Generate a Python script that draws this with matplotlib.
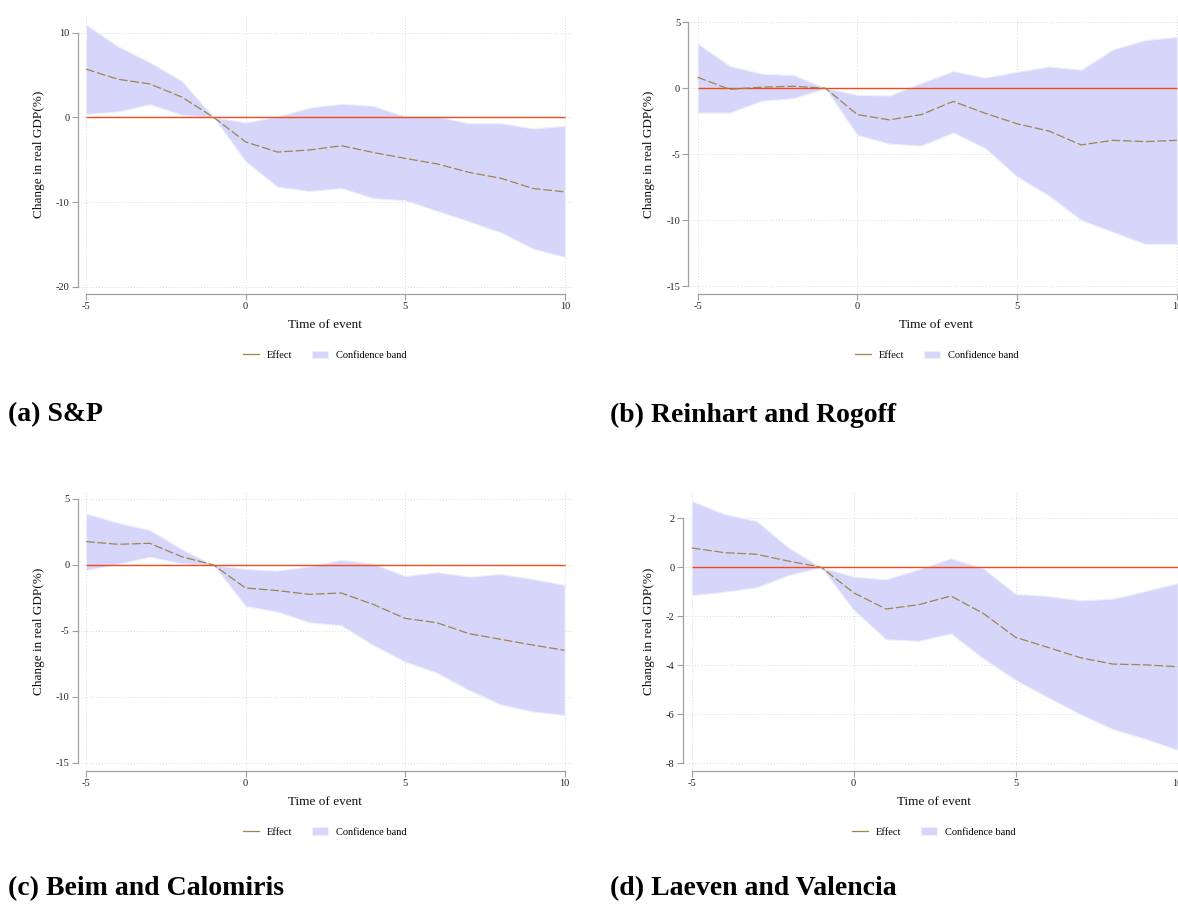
import matplotlib
matplotlib.use("Agg")
import matplotlib.pyplot as plt
from matplotlib.lines import Line2D
from matplotlib.patches import Patch

plt.rcParams['font.family'] = ['Liberation Serif', 'DejaVu Serif']
plt.rcParams['axes.unicode_minus'] = False

time = [-5, -4, -3, -2, -1, 0, 1, 2, 3, 4, 5, 6, 7, 8, 9, 10]

sp_effect = [5.7, 4.5, 3.95, 2.4, 0.0, -2.9, -4.1, -3.85, -3.35, -4.15, -4.85, -5.5, -6.5, -7.2, -8.4, -8.8]
sp_upper = [10.95, 8.4, 6.5, 4.3, 0.0, -0.6, 0.1, 1.15, 1.6, 1.35, 0.1, 0.1, -0.7, -0.7, -1.3, -1.0]
sp_lower = [0.4, 0.7, 1.55, 0.3, 0.0, -5.2, -8.2, -8.7, -8.35, -9.55, -9.8, -11.05, -12.3, -13.6, -15.5, -16.5]

rr_effect = [0.83, -0.08, 0.08, 0.15, 0.0, -2.0, -2.4, -2.0, -1.0, -1.9, -2.7, -3.25, -4.3, -3.95, -4.05, -3.95]
rr_upper = [3.4, 1.7, 1.1, 1.0, 0.0, -0.5, -0.55, 0.4, 1.3, 0.8, 1.25, 1.65, 1.4, 2.95, 3.65, 3.9]
rr_lower = [-1.85, -1.85, -0.95, -0.75, 0.0, -3.55, -4.2, -4.35, -3.35, -4.55, -6.7, -8.15, -10.0, -10.9, -11.8, -11.8]

bc_effect = [1.77, 1.57, 1.64, 0.63, 0.0, -1.74, -1.94, -2.22, -2.12, -2.98, -4.04, -4.37, -5.2, -5.63, -6.06, -6.46]
bc_upper = [3.9, 3.2, 2.65, 1.2, 0.0, -0.3, -0.43, -0.1, 0.4, 0.1, -0.83, -0.55, -0.88, -0.68, -1.06, -1.5]
bc_lower = [-0.38, 0.08, 0.63, 0.13, 0.0, -3.1, -3.54, -4.34, -4.57, -6.06, -7.32, -8.16, -9.47, -10.56, -11.1, -11.36]

lv_effect = [0.79, 0.6, 0.53, 0.25, 0.0, -1.04, -1.7, -1.53, -1.17, -1.88, -2.86, -3.27, -3.69, -3.95, -3.98, -4.06]
lv_upper = [2.71, 2.18, 1.89, 0.79, 0.0, -0.38, -0.49, -0.08, 0.37, -0.04, -1.09, -1.17, -1.35, -1.28, -0.97, -0.65]
lv_lower = [-1.14, -1.0, -0.82, -0.31, 0.0, -1.74, -2.94, -3.0, -2.7, -3.72, -4.6, -5.31, -6.0, -6.6, -7.0, -7.45]

x_ticks = [-5, 0, 5, 10]
titles = ["(a) S&P", "(b) Reinhart and Rogoff", "(c) Beim and Calomiris", "(d) Laeven and Valencia"]

W, H = 1178, 907
fig = plt.figure(figsize=(W / 100, H / 100), dpi=100)

# layout in reference pixels: spine x, pixel of x=-5, pixel of x=10,
# top of axes, bottom (x spine), pixel of top tick, pixel of bottom tick
panels = [
    dict(eff=sp_effect, up=sp_upper, lo=sp_lower, yt=[-20, -10, 0, 10],
         spine=77.7, x0=86.0, x1=565.0, top=14.0, bot=294.3, yt_top=32.7, yt_bot=286.7,
         leg=(325, 355.5), title=(8, 415)),
    dict(eff=rr_effect, up=rr_upper, lo=rr_lower, yt=[-15, -10, -5, 0, 5],
         spine=688.2, x0=697.6, x1=1177.0, top=13.7, bot=294.0, yt_top=22.3, yt_bot=286.0,
         leg=(937, 355.5), title=(610, 415)),
    dict(eff=bc_effect, up=bc_upper, lo=bc_lower, yt=[-15, -10, -5, 0, 5],
         spine=77.7, x0=86.0, x1=564.5, top=491.7, bot=771.3, yt_top=499.0, yt_bot=763.0,
         leg=(325, 832), title=(8, 889)),
    dict(eff=lv_effect, up=lv_upper, lo=lv_lower, yt=[-8, -6, -4, -2, 0, 2],
         spine=682.5, x0=691.7, x1=1177.6, top=491.7, bot=771.3, yt_top=518.3, yt_bot=763.3,
         leg=(934, 832), title=(610, 889)),
]

band_color = '#D6D6FA'
eff_color = '#A0844E'
zero_color = '#F2491C'
spine_color = '#A0A0A0'

for p, title in zip(panels, titles):
    sx = (p['x1'] - p['x0']) / (x_ticks[-1] - x_ticks[0])
    right_px = p['x1'] + 0.22 * sx
    xl = x_ticks[0] - (p['x0'] - p['spine']) / sx
    xr = x_ticks[0] + (right_px - p['x0']) / sx
    sy = (p['yt_bot'] - p['yt_top']) / (p['yt'][-1] - p['yt'][0])
    yt_top_v = p['yt'][-1]
    y_hi = yt_top_v + (p['yt_top'] - p['top']) / sy
    y_lo = p['yt'][0] - (p['bot'] - p['yt_bot']) / sy

    ax = fig.add_axes([p['spine'] / W, 1 - p['bot'] / H,
                       (right_px - p['spine']) / W, (p['bot'] - p['top']) / H])
    ax.set_xlim(xl, xr)
    ax.set_ylim(y_lo, y_hi)
    ax.fill_between(time, p['lo'], p['up'], color=band_color, edgecolor='#EEEEFD',
                    linewidth=0.8, zorder=2)
    ax.hlines(0, time[0], time[-1], color=zero_color, linewidth=1.0, zorder=3)
    ax.plot(time, p['eff'], color=eff_color, linewidth=0.9, dashes=(7, 2.2), zorder=4)

    ax.set_xticks(x_ticks)
    ax.set_yticks(p['yt'])
    ax.set_yticklabels([str(v) for v in p['yt']])
    ax.grid(True, linestyle=(0, (1, 2)), color='#D8D8D8', linewidth=0.7, zorder=0)
    ax.set_axisbelow(True)

    for s in ['top', 'right']:
        ax.spines[s].set_visible(False)
    ax.spines['left'].set_bounds(p['yt'][0], p['yt'][-1])
    ax.spines['bottom'].set_bounds(x_ticks[0], x_ticks[-1])
    for s in ['left', 'bottom']:
        ax.spines[s].set_color(spine_color)
        ax.spines[s].set_linewidth(0.9)
    ax.tick_params(axis='both', colors=spine_color, labelcolor='#222222',
                   labelsize=7.5, length=4, width=0.8, pad=1.8)

    ax.set_xlabel('Time of event', fontsize=9.5, labelpad=5.5, color='#111111')
    ax.set_ylabel('Change in real GDP(%)', fontsize=9.5, labelpad=8, color='#111111')

    handles = [Line2D([], [], color=eff_color, linewidth=0.9),
               Patch(facecolor=band_color, edgecolor='#EEEEFD', linewidth=0.8)]
    ax.legend(handles, ['Effect', 'Confidence band'],
              loc='center', bbox_to_anchor=(p['leg'][0] / W, 1 - p['leg'][1] / H),
              bbox_transform=fig.transFigure, ncol=2, frameon=False, fontsize=7.5,
              handlelength=1.5, handletextpad=0.8, columnspacing=1.9, handleheight=0.7)

    fig.text(p['title'][0] / W, 1 - p['title'][1] / H, title, fontsize=20,
             fontweight='bold', ha='left', va='center', color='black')

fig.savefig('out.png', dpi=100)
